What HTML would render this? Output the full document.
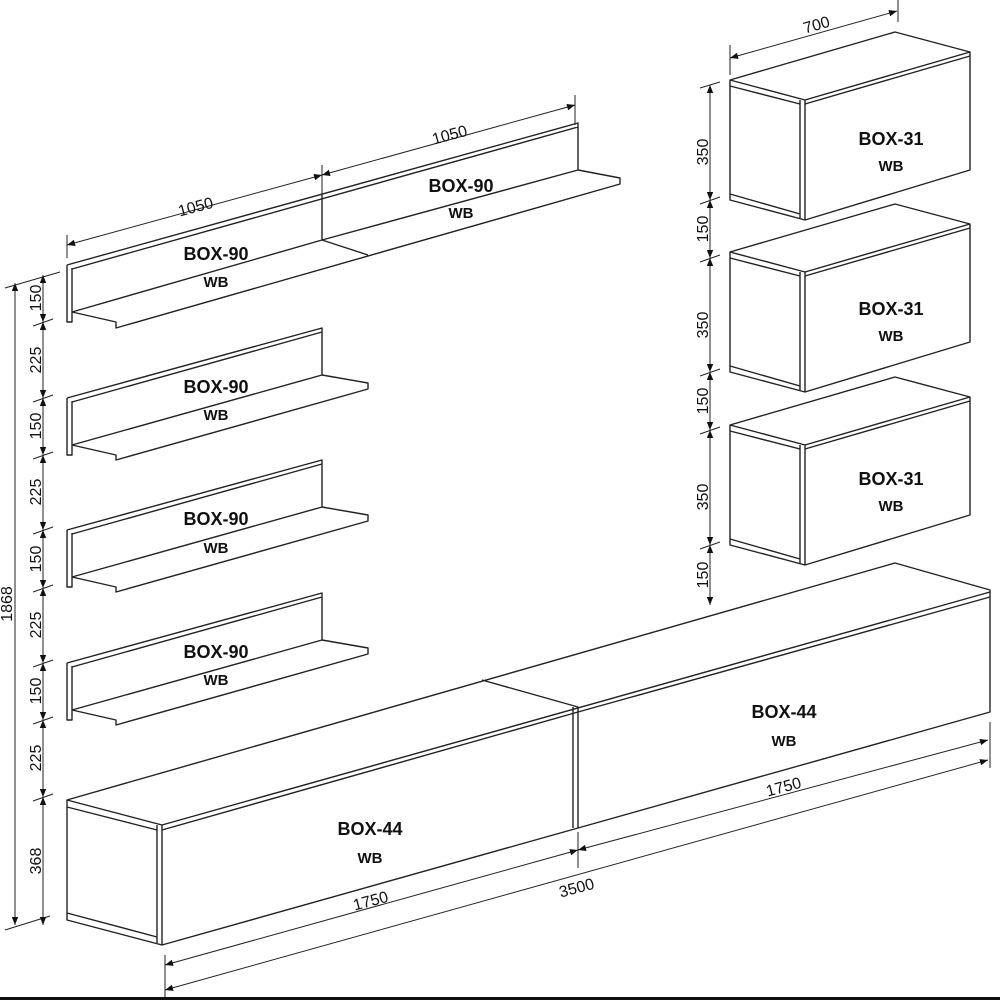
<!DOCTYPE html>
<html><head><meta charset="utf-8"><style>
html,body{margin:0;padding:0;background:#fff}
svg{display:block}
text{font-family:"Liberation Sans",Arial,sans-serif;fill:#111}
.b{font-weight:bold;font-size:18px}
.w{font-weight:bold;font-size:15px}
.d{font-size:16px}
</style></head><body>
<svg width="1000" height="1000" viewBox="0 0 1000 1000" xmlns="http://www.w3.org/2000/svg">
<defs>
<marker id="a" viewBox="0 0 10 10" refX="10" refY="5" markerWidth="14" markerHeight="8" orient="auto-start-reverse" markerUnits="userSpaceOnUse"><path d="M0,1 L10,5 L0,9 z" fill="#111"/></marker>
</defs>
<g fill="none" stroke="#222" stroke-width="1.4" stroke-linejoin="round">
<path d="M67,265 L578,123 L578,170 M67,265 L67,322 L72,322 L72,268 M72,312 L116,322 L116,328 L620,184 L620,178 L578,170 M72,312 L322,240 L578,170 M322,195 L322,240 L368,255 M72,269 L578,127"/>
<g id="s"><path d="M67,398 L322,328 L322,375 M67,398 L67,455 L72,455 L72,401 M72,445 L116,455 L116,460 L368,389 L368,383 L322,375 M72,445 L322,375 M72,402 L322,332"/></g>
<use href="#s" y="132"/>
<use href="#s" y="265"/>
<g id="c"><path d="M730,80 L895,32 L970,52 L970,170 L805,220 L730,200 Z M730,80 L805,100 L970,52 M805,100 L805,220 M800,100 L800,218 M730,86 L800,104 M730,194 L800,214 M805,104 L970,56"/></g>
<use href="#c" y="172"/>
<use href="#c" y="345"/>
<path d="M67,800 L895,563 L990,590 L990,712 L578,828 L162,945 L67,920 Z M67,800 L162,825 L162,945 M157,825 L157,943 M67,807 L157,830 M67,913 L157,937 M162,825 L990,592 M162,830 L578,712 M482,680 L578,707 L578,828 M573,707 L573,828 M578,712 L990,597"/>
</g>
<g fill="none" stroke="#222" stroke-width="1">
<path d="M67,235 L67,258 M322,165 L322,200 M575,95 L575,125 M898,0 L898,22 M730,45 L730,75"/>
<path d="M67,245 L322,175" marker-start="url(#a)" marker-end="url(#a)"/>
<path d="M322,175 L575,105" marker-start="url(#a)" marker-end="url(#a)"/>
<path d="M730,58 L897,11" marker-start="url(#a)" marker-end="url(#a)"/>
<path d="M15,283 L15,925" marker-start="url(#a)" marker-end="url(#a)"/>
<path d="M5,288 L60,272 M5,930 L50,916"/>
<path d="M43,275 L43,322" marker-start="url(#a)" marker-end="url(#a)"/>
<path d="M43,322 L43,398" marker-start="url(#a)" marker-end="url(#a)"/>
<path d="M43,398 L43,455" marker-start="url(#a)" marker-end="url(#a)"/>
<path d="M43,455 L43,530" marker-start="url(#a)" marker-end="url(#a)"/>
<path d="M43,530 L43,588" marker-start="url(#a)" marker-end="url(#a)"/>
<path d="M43,588 L43,663" marker-start="url(#a)" marker-end="url(#a)"/>
<path d="M43,663 L43,720" marker-start="url(#a)" marker-end="url(#a)"/>
<path d="M43,720 L43,797" marker-start="url(#a)" marker-end="url(#a)"/>
<path d="M43,797 L43,925" marker-start="url(#a)" marker-end="url(#a)"/>
<path d="M33,326 L53,319 M33,402 L53,395 M33,459 L53,452 M33,534 L53,527 M33,592 L53,585 M33,667 L53,660 M33,724 L53,717 M33,801 L53,794"/>
<path d="M710,85 L710,200" marker-start="url(#a)" marker-end="url(#a)"/>
<path d="M710,200 L710,258" marker-start="url(#a)" marker-end="url(#a)"/>
<path d="M710,258 L710,372" marker-start="url(#a)" marker-end="url(#a)"/>
<path d="M710,372 L710,430" marker-start="url(#a)" marker-end="url(#a)"/>
<path d="M710,430 L710,545" marker-start="url(#a)" marker-end="url(#a)"/>
<path d="M710,545 L710,605" marker-start="url(#a)" marker-end="url(#a)"/>
<path d="M700,88 L720,82 M700,204 L720,197 M700,262 L720,255 M700,376 L720,369 M700,434 L720,427 M700,549 L720,542"/>
<path d="M165,955 L165,1000 M578,832 L578,868 M990,722 L990,768"/>
<path d="M165,965 L578,850" marker-start="url(#a)" marker-end="url(#a)"/>
<path d="M165,990 L988,760" marker-start="url(#a)" marker-end="url(#a)"/>
<path d="M578,850 L988,740" marker-start="url(#a)" marker-end="url(#a)"/>
</g>
<rect x="0" y="997" width="1000" height="3" fill="#111"/>
<g text-anchor="middle">
<text class="b" x="216" y="260">BOX-90</text><text class="w" x="216" y="287">WB</text>
<text class="b" x="461" y="192">BOX-90</text><text class="w" x="461" y="218">WB</text>
<text class="b" x="216" y="393">BOX-90</text><text class="w" x="216" y="420">WB</text>
<text class="b" x="216" y="525">BOX-90</text><text class="w" x="216" y="553">WB</text>
<text class="b" x="216" y="658">BOX-90</text><text class="w" x="216" y="685">WB</text>
<text class="b" x="891" y="145">BOX-31</text><text class="w" x="891" y="171">WB</text>
<text class="b" x="891" y="315">BOX-31</text><text class="w" x="891" y="341">WB</text>
<text class="b" x="891" y="485">BOX-31</text><text class="w" x="891" y="511">WB</text>
<text class="b" x="370" y="835">BOX-44</text><text class="w" x="370" y="863">WB</text>
<text class="b" x="784" y="718">BOX-44</text><text class="w" x="784" y="746">WB</text>
<text class="d" transform="translate(197,212) rotate(-15)">1050</text>
<text class="d" transform="translate(451,140) rotate(-15)">1050</text>
<text class="d" transform="translate(818,30) rotate(-16)">700</text>
<text class="d" transform="translate(372,906) rotate(-15)">1750</text>
<text class="d" transform="translate(578,893) rotate(-15)">3500</text>
<text class="d" transform="translate(785,792) rotate(-15)">1750</text>
<text class="d" transform="translate(12,604) rotate(-90)">1868</text>
<text class="d" transform="translate(41,298) rotate(-90)">150</text>
<text class="d" transform="translate(41,360) rotate(-90)">225</text>
<text class="d" transform="translate(41,426) rotate(-90)">150</text>
<text class="d" transform="translate(41,492) rotate(-90)">225</text>
<text class="d" transform="translate(41,559) rotate(-90)">150</text>
<text class="d" transform="translate(41,625) rotate(-90)">225</text>
<text class="d" transform="translate(41,691) rotate(-90)">150</text>
<text class="d" transform="translate(41,758) rotate(-90)">225</text>
<text class="d" transform="translate(41,861) rotate(-90)">368</text>
<text class="d" transform="translate(708,152) rotate(-90)">350</text>
<text class="d" transform="translate(708,229) rotate(-90)">150</text>
<text class="d" transform="translate(708,325) rotate(-90)">350</text>
<text class="d" transform="translate(708,401) rotate(-90)">150</text>
<text class="d" transform="translate(708,497) rotate(-90)">350</text>
<text class="d" transform="translate(708,575) rotate(-90)">150</text>
</g>
</svg>
</body></html>
